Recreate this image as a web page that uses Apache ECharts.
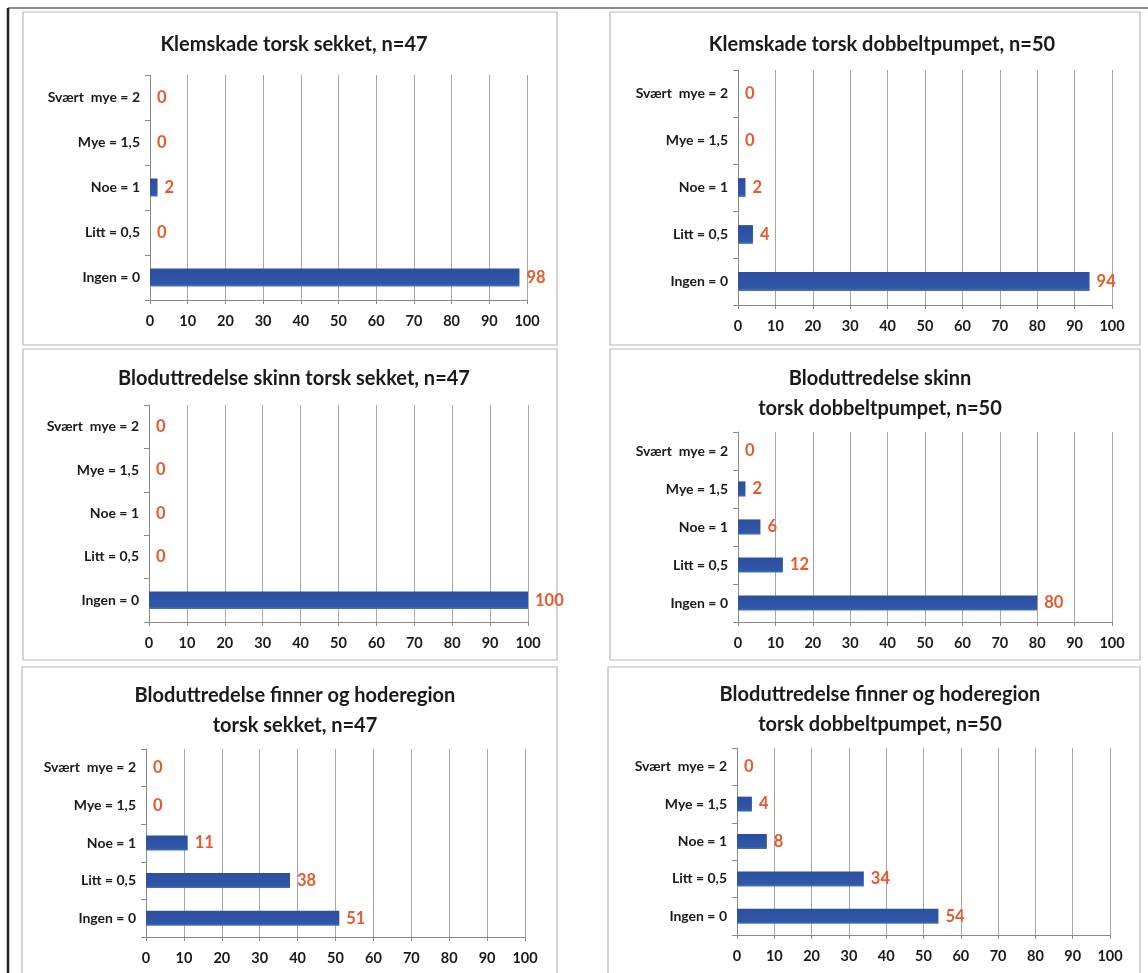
<!DOCTYPE html>
<html>
<head>
<meta charset="utf-8">
<script src="https://cdn.jsdelivr.net/npm/echarts@6/dist/echarts.min.js"></script>
<style>
  html, body { margin: 0; padding: 0; background: #fff; }
  #main { width: 1148px; height: 973px; }
</style>
</head>
<body>
<div id="main"></div>
<script>
// categories bottom -> top
const categories = ['Ingen = 0', 'Litt = 0,5', 'Noe = 1', 'Mye = 1,5', 'Svært  mye = 2'];
const xTicks = [0, 10, 20, 30, 40, 50, 60, 70, 80, 90, 100];

const klemSekket = [98, 0, 2, 0, 0];
const klemDobbelt = [94, 4, 2, 0, 0];
const skinnSekket = [100, 0, 0, 0, 0];
const skinnDobbelt = [80, 12, 6, 2, 0];
const finnerSekket = [51, 38, 11, 0, 0];
const finnerDobbelt = [54, 34, 8, 4, 0];

const titles = [
    'Klemskade torsk sekket, n=47',
    'Klemskade torsk dobbeltpumpet, n=50',
    'Bloduttredelse skinn torsk sekket, n=47',
    'Bloduttredelse skinn\ntorsk dobbeltpumpet, n=50',
    'Bloduttredelse finner og hoderegion\ntorsk sekket, n=47',
    'Bloduttredelse finner og hoderegion\ntorsk dobbeltpumpet, n=50'
];
const values = [klemSekket, klemDobbelt, skinnSekket, skinnDobbelt, finnerSekket, finnerDobbelt];

// layout of each panel: box, grid, title position
const panels = [
    { box: [23, 12, 534, 333],  grid: { left: 150, top: 75,  width: 377, height: 225 }, tx: 289, ty: 25 },
    { box: [610, 12, 530, 333], grid: { left: 738, top: 70,  width: 374, height: 235 }, tx: 877, ty: 25 },
    { box: [23, 349, 534, 311], grid: { left: 149, top: 405, width: 379, height: 217 }, tx: 289, ty: 359 },
    { box: [610, 349, 530, 311], grid: { left: 738, top: 432, width: 374, height: 190 }, tx: 875, ty: 359 },
    { box: [22, 667, 535, 320], grid: { left: 146, top: 749, width: 379, height: 188 }, tx: 290, ty: 676 },
    { box: [608, 667, 532, 320], grid: { left: 737, top: 748, width: 373, height: 187 }, tx: 875, ty: 675 }
];

const font = 'Lato, "Liberation Sans", sans-serif';

let option = {
    backgroundColor: '#fff',
    animation: false,
    title: panels.map((p, i) => ({
        text: titles[i],
        left: p.tx,
        top: p.ty,
        textAlign: 'center',
        textStyle: {
            fontFamily: font,
            fontSize: 20,
            fontWeight: 'bold',
            color: '#1a1a1a',
            lineHeight: 30,
            align: 'center'
        }
    })),
    graphic: [
        { type: 'line', shape: { x1: 8, y1: 8, x2: 1148, y2: 8 }, style: { stroke: '#666', lineWidth: 1.5 } },
        { type: 'line', shape: { x1: 8, y1: 8, x2: 8, y2: 973 }, style: { stroke: '#222', lineWidth: 2.5 } }
    ].concat(panels.map(p => ({
        type: 'rect',
        z: -1,
        shape: { x: p.box[0], y: p.box[1], width: p.box[2], height: p.box[3] },
        style: { fill: '#fff', stroke: '#b8b8b8', lineWidth: 1.2 }
    }))),
    grid: panels.map(p => Object.assign({ containLabel: false }, p.grid)),
    xAxis: panels.map((p, i) => ({
        type: 'value',
        gridIndex: i,
        min: xTicks[0],
        max: xTicks[xTicks.length - 1],
        interval: 10,
        axisLine: { show: true, lineStyle: { color: '#8a8a8a', width: 1 } },
        axisTick: { show: true, length: 4, lineStyle: { color: '#8a8a8a' } },
        splitLine: { show: true, lineStyle: { color: '#a6a6a6', width: 1 } },
        axisLabel: {
            margin: 14,
            fontFamily: font,
            fontSize: 14.5,
            fontWeight: 'bold',
            color: '#1a1a1a'
        }
    })),
    yAxis: panels.map((p, i) => ({
        type: 'category',
        gridIndex: i,
        data: categories,
        axisLine: { show: true, lineStyle: { color: '#8a8a8a', width: 1 } },
        axisTick: { show: true, length: 5, inside: false, lineStyle: { color: '#8a8a8a' } },
        splitLine: { show: false },
        axisLabel: {
            margin: 10,
            fontFamily: font,
            fontSize: 14,
            fontWeight: 'bold',
            color: '#1a1a1a'
        }
    })),
    series: values.map((v, i) => ({
        type: 'bar',
        xAxisIndex: i,
        yAxisIndex: i,
        data: v,
        barWidth: '40%',
        itemStyle: {
            color: new echarts.graphic.LinearGradient(0, 0, 0, 1, [
                { offset: 0, color: '#2c4f9e' },
                { offset: 0.85, color: '#2f57a9' },
                { offset: 1, color: '#4a74bd' }
            ])
        },
        label: {
            show: true,
            position: 'right',
            distance: 7,
            fontFamily: font,
            fontSize: 16.5,
            fontWeight: 'bold',
            color: '#e65a2c'
        }
    }))
};

let myChart = echarts.init(document.getElementById('main'), null, { renderer: 'canvas' });
myChart.setOption(option);
</script>
</body>
</html>
